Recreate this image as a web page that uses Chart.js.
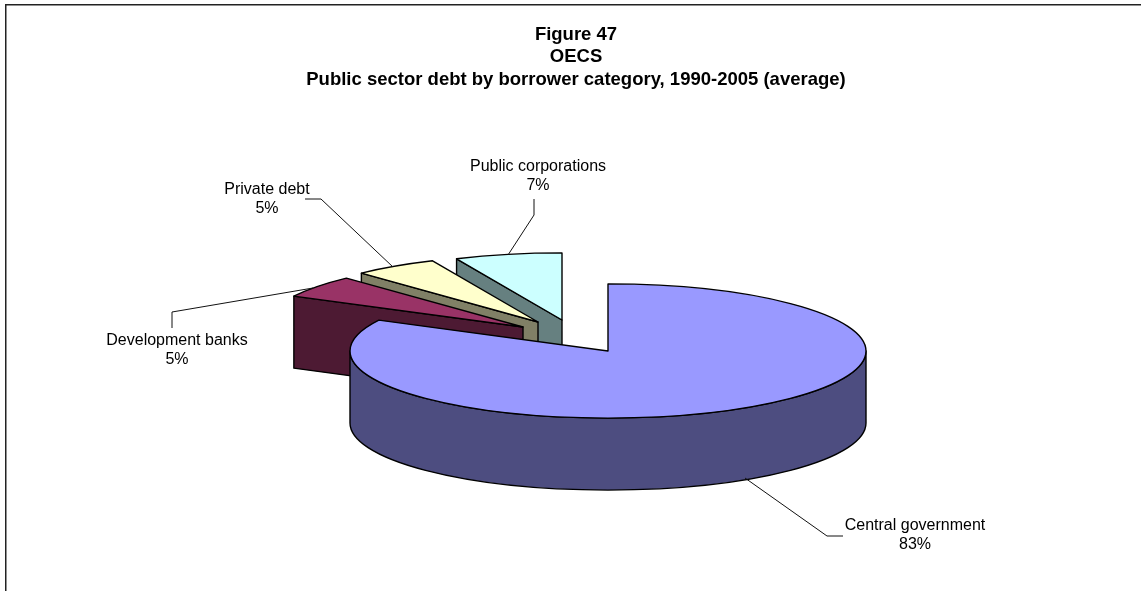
<!DOCTYPE html>
<html>
<head>
<meta charset="utf-8">
<title>Figure 47</title>
<script src="https://cdn.jsdelivr.net/npm/chart.js@4"></script>
<style>
  html, body { margin: 0; padding: 0; background: #fff; }
  canvas { display: block; }
</style>
</head>
<body>
<canvas id="chart" width="1141" height="591"></canvas>
<script>
// values
const categories = ['Central government', 'Development banks', 'Private debt', 'Public corporations'];
const shares = [82.6, 5.4, 5.3, 6.7];
const titleLines = ['Figure 47', 'OECS', 'Public sector debt by borrower category, 1990-2005 (average)'];

const topColors = ['#9999ff', '#993366', '#ffffcc', '#ccffff'];
const sideColors = ['#4d4d80', '#4d1a33', '#808066', '#668080'];

// how far each slice is pulled out of the pie, on screen
const explode = [[0, 0], [-85, -24], [-70, -29], [-46, -31]];

// label centre and leader line of each slice
const labelBoxes = [
  { x: 915, y: 526, leader: [[843, 536], [827, 536], [745, 478]] },
  { x: 177, y: 341, leader: [[172, 328], [172, 312], [313, 288]] },
  { x: 267, y: 190, leader: [[305, 199], [321, 199], [393, 267]] },
  { x: 538, y: 167, leader: [[534, 199], [534, 215], [508, 255]] }
];

const FONT = '"Liberation Sans", Arial, sans-serif';
const view = { cx: 608, cy: 351, tilt: 0.26, depth: 72 };

// the tilted pie: walls by hand, tops through the arc elements
const tiltedPie = {
  id: 'tiltedPie',
  beforeDraw(chart) {
    const ctx = chart.ctx;
    ctx.save();
    ctx.strokeStyle = '#222';
    ctx.lineWidth = 1.5;
    ctx.beginPath();
    ctx.moveTo(5.75, 591);
    ctx.lineTo(5.75, 4.75);
    ctx.lineTo(1141, 4.75);
    ctx.stroke();
    ctx.restore();
  },
  beforeDatasetDraw(chart) {
    const ctx = chart.ctx;
    const arcs = chart.getDatasetMeta(0).data;
    ctx.save();
    ctx.lineWidth = 1.4;
    ctx.lineJoin = 'round';
    ctx.strokeStyle = '#000';
    // back slices first, the big one last
    for (let i = arcs.length - 1; i >= 0; i--) {
      const arc = arcs[i];
      const r = arc.outerRadius;
      const ox = view.cx + explode[i][0];
      const oy = view.cy + explode[i][1];
      const ry = r * view.tilt;
      const d = view.depth;

      ctx.fillStyle = sideColors[i];
      // only the cut faces turned towards the viewer
      const faces = [];
      if (Math.cos(arc.startAngle) < -1e-6) faces.push(arc.startAngle);
      if (Math.cos(arc.endAngle) > 1e-6) faces.push(arc.endAngle);
      faces.forEach(a => {
        const px = ox + r * Math.cos(a);
        const py = oy + ry * Math.sin(a);
        ctx.beginPath();
        ctx.moveTo(ox, oy);
        ctx.lineTo(px, py);
        ctx.lineTo(px, py + d);
        ctx.lineTo(ox, oy + d);
        ctx.closePath();
        ctx.fill();
        ctx.stroke();
      });

      // front part of the rim
      const lo = Math.max(arc.startAngle, 0);
      const hi = Math.min(arc.endAngle, Math.PI);
      if (hi > lo) {
        ctx.beginPath();
        ctx.ellipse(ox, oy, r, ry, 0, lo, hi);
        ctx.ellipse(ox, oy + d, r, ry, 0, hi, lo, true);
        ctx.closePath();
        ctx.fill();
        ctx.stroke();
      }

      ctx.save();
      ctx.translate(ox, oy);
      ctx.scale(1, view.tilt);
      ctx.translate(-arc.x, -arc.y);
      arc.draw(ctx);
      ctx.restore();

      ctx.beginPath();
      ctx.moveTo(ox, oy);
      ctx.ellipse(ox, oy, r, ry, 0, arc.startAngle, arc.endAngle);
      ctx.closePath();
      ctx.stroke();
    }
    ctx.restore();
    return false;
  },
  afterDatasetsDraw(chart) {
    const ctx = chart.ctx;
    ctx.save();
    ctx.strokeStyle = '#111';
    ctx.lineWidth = 1;
    ctx.fillStyle = '#000';
    ctx.font = '16px ' + FONT;
    ctx.textAlign = 'center';
    ctx.textBaseline = 'middle';
    labelBoxes.forEach((box, i) => {
      ctx.beginPath();
      box.leader.forEach((p, j) => j ? ctx.lineTo(p[0], p[1]) : ctx.moveTo(p[0], p[1]));
      ctx.stroke();
      ctx.fillText(categories[i], box.x, box.y);
      ctx.fillText(Math.round(shares[i]) + '%', box.x, box.y + 19);
    });
    ctx.restore();
  }
};

new Chart(document.getElementById('chart'), {
  type: 'pie',
  data: {
    labels: categories,
    datasets: [{
      data: shares,
      backgroundColor: topColors,
      borderWidth: 0
    }]
  },
  options: {
    responsive: false,
    animation: false,
    radius: 258,
    layout: { padding: { left: 11 } },
    plugins: {
      legend: { display: false },
      tooltip: { enabled: false },
      title: {
        display: true,
        text: titleLines,
        color: '#000',
        font: { family: FONT, size: 18.5, weight: 'bold', lineHeight: 1.2 },
        padding: { top: 24, bottom: 0 }
      }
    }
  },
  plugins: [tiltedPie]
});
</script>
</body>
</html>
